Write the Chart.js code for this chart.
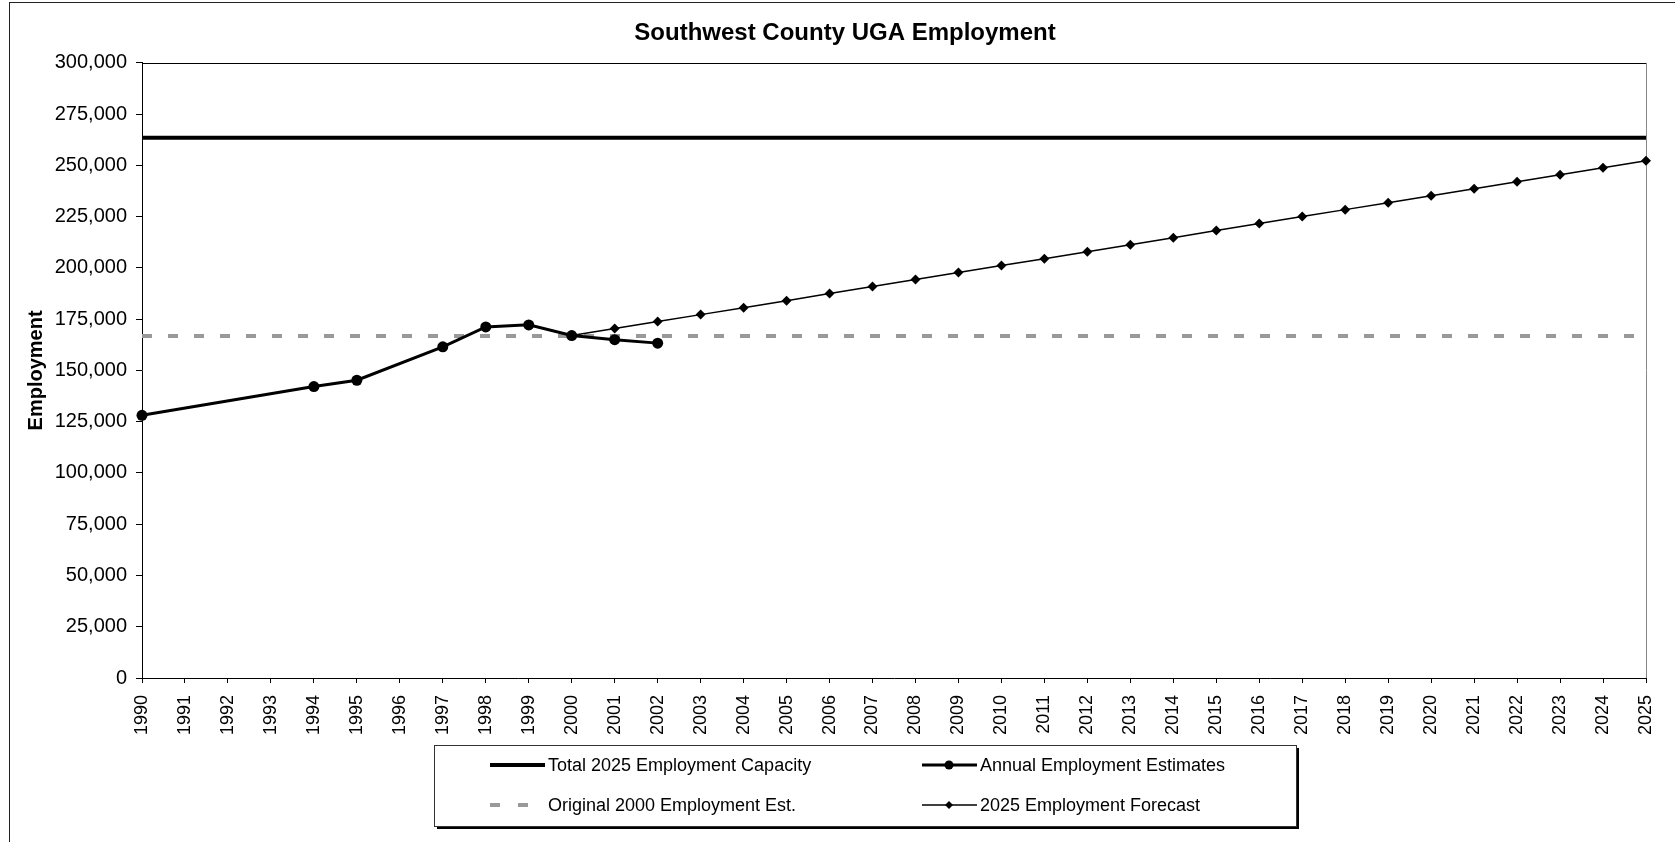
<!DOCTYPE html>
<html>
<head>
<meta charset="utf-8">
<title>Southwest County UGA Employment</title>
<script src="https://cdn.jsdelivr.net/npm/chart.js@4/dist/chart.umd.min.js"></script>
<style>
  html, body { margin: 0; padding: 0; background: #fff; overflow: hidden; }
</style>
</head>
<body>
<canvas id="myChart" width="1750" height="842"></canvas>
<script>
// years on the x axis
const years = ['1990', '1991', '1992', '1993', '1994', '1995', '1996', '1997', '1998', '1999',
    '2000', '2001', '2002', '2003', '2004', '2005', '2006', '2007', '2008', '2009',
    '2010', '2011', '2012', '2013', '2014', '2015', '2016', '2017', '2018', '2019',
    '2020', '2021', '2022', '2023', '2024', '2025'];

// horizontal reference values
const capacity2025 = 263500;
const original2000 = 166800;

// annual estimates (only some years)
const estimateYears = ['1990', '1994', '1995', '1997', '1998', '1999', '2000', '2001', '2002'];
const estimateValues = [128100, 142100, 145200, 161500, 171200, 172200, 167000, 165000, 163300];

// forecast 2000 - 2025
const forecastYears = ['2000', '2001', '2002', '2003', '2004', '2005', '2006', '2007', '2008',
    '2009', '2010', '2011', '2012', '2013', '2014', '2015', '2016', '2017', '2018', '2019',
    '2020', '2021', '2022', '2023', '2024', '2025'];
const forecastValues = [167000, 170400, 173800, 177200, 180600, 184000, 187500, 190900, 194300,
    197700, 201100, 204500, 207900, 211300, 214700, 218200, 221600, 225000, 228400, 231800,
    235200, 238600, 242000, 245400, 248800, 252200];

const yTicks = { min: 0, max: 300000, step: 25000 };

function byYear(keys, values) {
    return years.map(function (y) {
        const i = keys.indexOf(y);
        return i >= 0 ? values[i] : null;
    });
}

const FONT = '"Liberation Sans", Arial, sans-serif';
Chart.defaults.font.family = FONT;
Chart.defaults.color = '#000';

// white page + outer chart border + plot frame (top / right)
const frame = {
    id: 'frame',
    beforeDraw(chart) {
        const ctx = chart.ctx;
        ctx.save();
        ctx.fillStyle = '#fff';
        ctx.fillRect(0, 0, chart.width, chart.height);
        ctx.strokeStyle = '#222';
        ctx.lineWidth = 1;
        ctx.strokeRect(9.5, 2.5, chart.width, chart.height + 20);
        ctx.restore();
    },
    beforeDatasetsDraw(chart) {
        const ctx = chart.ctx;
        const a = chart.chartArea;
        ctx.save();
        ctx.lineWidth = 1;
        ctx.strokeStyle = '#000';
        ctx.beginPath();
        ctx.moveTo(a.left, Math.round(a.top) + 0.5);
        ctx.lineTo(a.right, Math.round(a.top) + 0.5);
        ctx.stroke();
        ctx.strokeStyle = '#888';
        ctx.beginPath();
        ctx.moveTo(Math.round(a.right) + 0.5, a.top);
        ctx.lineTo(Math.round(a.right) + 0.5, a.bottom);
        ctx.stroke();
        ctx.restore();
    }
};

// 2 x 2 legend in a box with a shadow
const boxLegend = {
    id: 'boxLegend',
    afterDraw(chart) {
        const ctx = chart.ctx;
        const x = 434, y = 745, w = 862, h = 81;
        ctx.save();
        ctx.fillStyle = '#000';
        ctx.fillRect(x + 3, y + 3, w, h);
        ctx.fillStyle = '#fff';
        ctx.fillRect(x, y, w, h);
        ctx.strokeStyle = '#333';
        ctx.lineWidth = 1;
        ctx.strokeRect(x + 0.5, y + 0.5, w, h);

        const cols = [56, 488];
        const rows = [20, 60];
        chart.data.datasets.forEach(function (ds, i) {
            const sx = x + cols[i % 2];
            const sy = y + rows[Math.floor(i / 2)];
            const len = ds.borderDash ? 40 : 55;
            ctx.save();
            ctx.strokeStyle = ds.borderColor;
            ctx.lineWidth = ds.borderWidth;
            ctx.setLineDash(ds.borderDash ? [10, 18] : []);
            ctx.beginPath();
            ctx.moveTo(sx, sy);
            ctx.lineTo(sx + len, sy);
            ctx.stroke();
            ctx.restore();

            const cx = sx + 27;
            ctx.fillStyle = '#000';
            if (ds.pointStyle === 'circle' && ds.pointRadius > 0) {
                ctx.beginPath();
                ctx.arc(cx, sy, 4.5, 0, Math.PI * 2);
                ctx.fill();
            } else if (ds.pointStyle === 'rectRot' && ds.pointRadius > 0) {
                const r = 4;
                ctx.beginPath();
                ctx.moveTo(cx - r, sy);
                ctx.lineTo(cx, sy - r);
                ctx.lineTo(cx + r, sy);
                ctx.lineTo(cx, sy + r);
                ctx.closePath();
                ctx.fill();
            }

            ctx.font = '18px ' + FONT;
            ctx.fillStyle = '#000';
            ctx.textBaseline = 'middle';
            ctx.textAlign = 'left';
            ctx.fillText(ds.label, sx + 58, sy + 1);
        });
        ctx.restore();
    }
};

const ctx = document.getElementById('myChart').getContext('2d');
const myChart = new Chart(ctx, {
    type: 'line',
    data: {
        labels: years,
        datasets: [
            {
                label: 'Total 2025 Employment Capacity',
                data: years.map(function () { return capacity2025; }),
                borderColor: '#000',
                borderWidth: 4,
                pointRadius: 0,
                order: 3
            },
            {
                label: 'Annual Employment Estimates',
                data: byYear(estimateYears, estimateValues),
                spanGaps: true,
                borderColor: '#000',
                borderWidth: 3,
                pointStyle: 'circle',
                pointRadius: 5.5,
                pointBorderWidth: 0,
                pointBackgroundColor: '#000',
                clip: 10,
                order: 1
            },
            {
                label: 'Original 2000 Employment Est.',
                data: years.map(function () { return original2000; }),
                borderColor: '#999999',
                borderWidth: 4,
                borderDash: [10, 16],
                pointRadius: 0,
                order: 4
            },
            {
                label: '2025 Employment Forecast',
                data: byYear(forecastYears, forecastValues),
                borderColor: '#000',
                borderWidth: 1.5,
                pointStyle: 'rectRot',
                pointRadius: 5,
                pointBorderWidth: 0,
                pointBackgroundColor: '#000',
                clip: 10,
                order: 2
            }
        ]
    },
    options: {
        responsive: false,
        animation: false,
        devicePixelRatio: 1,
        layout: {
            padding: { left: 44, right: 104, top: 0, bottom: 0 }
        },
        plugins: {
            legend: { display: false },
            tooltip: { enabled: false },
            title: {
                display: true,
                text: 'Southwest County UGA Employment',
                font: { size: 24, weight: 'bold' },
                color: '#000',
                padding: { top: 19, bottom: 15 }
            }
        },
        scales: {
            x: {
                grid: { display: true, drawOnChartArea: false, tickLength: 5, color: '#000' },
                border: { color: '#000', width: 1 },
                ticks: {
                    autoSkip: false,
                    maxRotation: 90,
                    minRotation: 90,
                    padding: 12,
                    font: { size: 18 },
                    color: '#000'
                },
                afterFit(scale) { scale.height = 164; }
            },
            y: {
                min: yTicks.min,
                max: yTicks.max,
                grid: { display: true, drawOnChartArea: false, tickLength: 6, color: '#000' },
                border: { color: '#000', width: 1 },
                ticks: {
                    stepSize: yTicks.step,
                    padding: 9,
                    font: { size: 20 },
                    color: '#000',
                    callback: function (v) { return v.toLocaleString('en-US'); }
                },
                title: {
                    display: true,
                    text: 'Employment',
                    font: { size: 20, weight: 'bold' },
                    color: '#000',
                    padding: { top: -20, bottom: 0 }
                },
                afterFit(scale) { scale.width = 98; }
            }
        }
    },
    plugins: [frame, boxLegend]
});
</script>
</body>
</html>
